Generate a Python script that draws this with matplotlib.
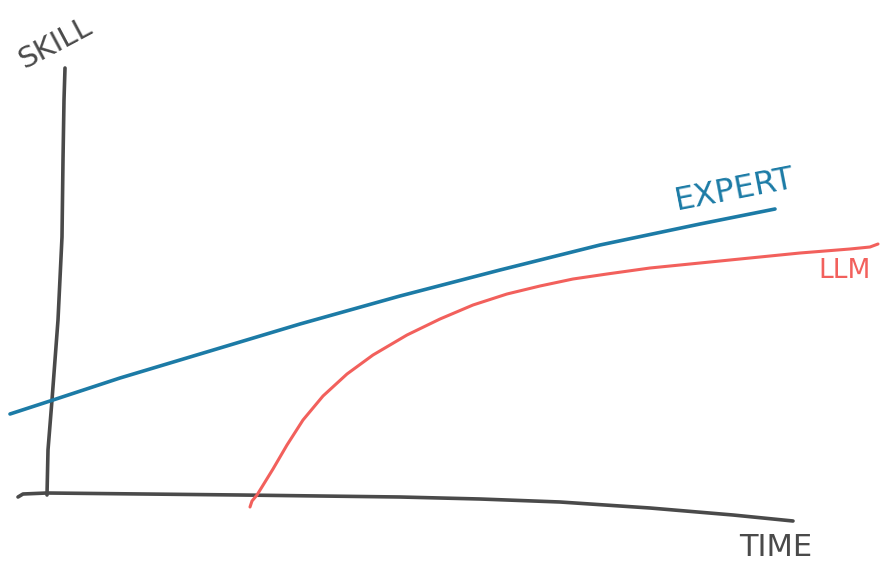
import matplotlib.pyplot as plt

# hand-drawn sketch, coordinates (pixels, y downwards)
expert_x = [10, 50, 120, 200, 300, 400, 500, 600, 700, 775]
expert_y = [414, 401, 378, 354, 324, 296, 270, 245, 224, 209]

llm_x = [250, 252, 257, 265, 273, 287, 303, 323, 347, 373, 407, 440, 473, 507,
         540, 573, 607, 650, 700, 750, 800, 850, 870, 878]
llm_y = [507, 501, 495, 482, 469, 445, 420, 396, 374, 355, 335, 319, 305, 294,
         286, 279, 274, 268, 263, 258, 253, 249, 247, 244]

yaxis_x = [65, 64, 63, 62, 58, 52, 48, 47]
yaxis_y = [68, 100, 160, 237, 320, 400, 450, 495]

xaxis_x = [18, 23, 47, 240, 400, 480, 560, 650, 733, 793]
xaxis_y = [497, 494, 493, 495, 497, 499, 502, 508, 515, 521]

BLUE = '#1c7ba6'
RED = '#f2605c'
GREY = '#4a4a4a'

fig = plt.figure(figsize=(8.9, 5.74), dpi=100)
ax = fig.add_axes([0, 0, 1, 1])
ax.set_xlim(0, 890)
ax.set_ylim(574, 0)
ax.axis('off')

style = dict(solid_capstyle='round', solid_joinstyle='round')
ax.plot(yaxis_x, yaxis_y, color=GREY, lw=2.6, **style)
ax.plot(xaxis_x, xaxis_y, color=GREY, lw=2.6, **style)
ax.plot(expert_x, expert_y, color=BLUE, lw=2.6, **style)
ax.plot(llm_x, llm_y, color=RED, lw=2.2, **style)

ax.text(55, 43, 'SKILL', color=GREY, fontsize=21, rotation=28,
        ha='center', va='center', family='DejaVu Sans')
ax.text(735, 190, 'EXPERT', color=BLUE, fontsize=23, rotation=11,
        ha='center', va='center', family='DejaVu Sans')
ax.text(845, 271, 'LLM', color=RED, fontsize=19,
        ha='center', va='center', family='DejaVu Sans')
ax.text(776, 548, 'TIME', color=GREY, fontsize=22,
        ha='center', va='center', family='DejaVu Sans')

fig.savefig('out.png', dpi=100, facecolor='white')
